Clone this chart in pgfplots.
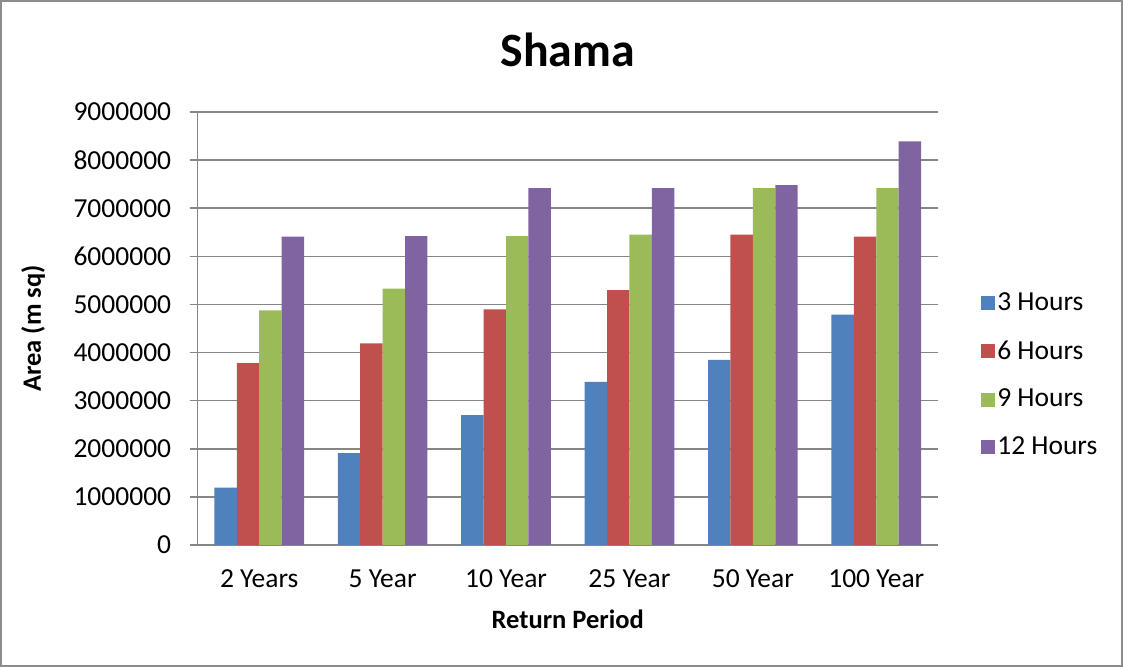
\documentclass[border=0pt]{standalone}
\usepackage{pgfplots}
\pgfplotsset{compat=1.18}
\usepackage{fontspec}
\setmainfont{Carlito}
\definecolor{s1}{HTML}{4F81BD}
\definecolor{s2}{HTML}{C0504D}
\definecolor{s3}{HTML}{9BBB59}
\definecolor{s4}{HTML}{8064A2}
\definecolor{gridc}{HTML}{868686}
\definecolor{borderc}{HTML}{8C8C8C}
\begin{document}
\begin{tikzpicture}
\useasboundingbox (0,0) rectangle (561.5bp,333.5bp);
\draw[borderc, line width=1bp] (0.5bp,0.5bp) rectangle (561bp,333bp);
\begin{axis}[
  at={(98.75bp,61bp)}, anchor=south west,
  scale only axis, width=370.25bp, height=216.5bp,
  xmin=-0.5, xmax=5.5, ymin=0, ymax=9000000,
  xtick={0,1,2,3,4,5},
  xticklabels={2 Years,5 Year,10 Year,25 Year,50 Year,100 Year},
  xtick style={draw=none},
  ytick={0,1000000,2000000,3000000,4000000,5000000,6000000,7000000,8000000,9000000},
  scaled y ticks=false,
  yticklabel style={/pgf/number format/fixed, /pgf/number format/1000 sep={}, /pgf/number format/assume math mode=true, anchor=east, inner sep=0pt, xshift=-9bp, font=\fontsize{13.8}{16}\selectfont},
  xticklabel style={anchor=base, inner sep=0pt, yshift=-17bp, font=\fontsize{13.8}{16}\selectfont},
  ytick style={gridc, line width=0.75bp},
  major tick length=4bp, tick align=outside,
  axis x line*=bottom, axis y line*=left,
  axis line style={gridc, line width=0.75bp},
  ymajorgrids, major grid style={gridc, line width=0.75bp},
  title={Shama},
  title style={at={(axis description cs:0.5,1.078)}, anchor=base, font=\fontsize{24}{28}\selectfont\bfseries, inner sep=0pt},
  xlabel={Return Period},
  xlabel style={at={(axis description cs:0.5,-0.1917)}, anchor=base, font=\fontsize{13.3}{16}\selectfont\bfseries, inner sep=0pt},
  ylabel={Area (m sq)},
  ylabel style={at={(axis description cs:-0.222,0.5)}, anchor=center, font=\fontsize{13.3}{16}\selectfont\bfseries, inner sep=0pt},
  ybar, bar width=0.1816,
  legend style={at={(axis description cs:1.058,0.392)}, anchor=west, draw=none, fill=none,
    font=\fontsize{13.8}{16}\selectfont, row sep=11.5bp, inner sep=0pt,
    nodes={inner sep=1bp}},
  legend cell align=left,
  legend image code/.code={\fill[#1] (0bp,-3.5bp) rectangle (7bp,3.5bp);},
]
\addplot[fill=s1, draw=none, bar shift=-0.2724] coordinates {(0,1190000) (1,1910000) (2,2700000) (3,3390000) (4,3850000) (5,4790000)};
\addplot[fill=s2, draw=none, bar shift=-0.0908] coordinates {(0,3780000) (1,4190000) (2,4900000) (3,5300000) (4,6450000) (5,6410000)};
\addplot[fill=s3, draw=none, bar shift=0.0908] coordinates {(0,4875000) (1,5330000) (2,6420000) (3,6450000) (4,7420000) (5,7420000)};
\addplot[fill=s4, draw=none, bar shift=0.2724] coordinates {(0,6410000) (1,6420000) (2,7420000) (3,7420000) (4,7480000) (5,8390000)};
\legend{3 Hours,6 Hours,9 Hours,12 Hours}
\end{axis}
\end{tikzpicture}
\end{document}
